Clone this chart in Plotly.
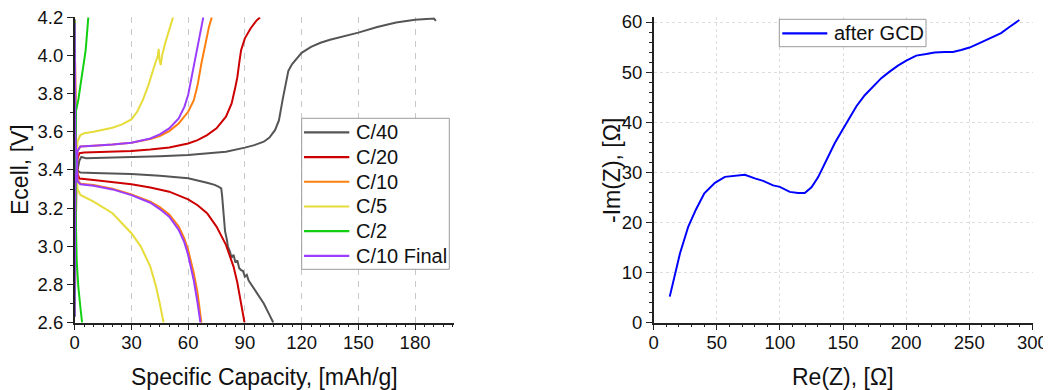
import plotly.graph_objects as go

# ---------------- Left panel: GCD curves (capacity mAh/g, voltage V) ----------------
rate_labels = ["C/40", "C/20", "C/10", "C/5", "C/2", "C/10 Final"]
rate_colors = ["#555555", "#CC0000", "#FF8010", "#E6DC3A", "#11D011", "#9B3DFF"]

c40_chg_cap = [0.3, 1.5, 2.5, 3.5, 6, 15, 30, 45, 60, 70, 80, 90, 95, 100, 103, 106, 108, 110, 112, 113, 115, 117, 120, 125, 130, 135, 140, 150, 160, 170, 180, 190, 191]
c40_chg_v = [3.30, 3.40, 3.45, 3.468, 3.462, 3.464, 3.468, 3.472, 3.478, 3.485, 3.495, 3.517, 3.53, 3.548, 3.57, 3.61, 3.66, 3.77, 3.88, 3.92, 3.955, 3.98, 4.014, 4.045, 4.067, 4.083, 4.095, 4.12, 4.15, 4.173, 4.187, 4.194, 4.182]
c40_dis_cap = [0, 0.3, 1, 3, 10, 30, 45, 60, 70, 74, 76, 77.5, 78, 78.5, 79, 79.5, 80.5, 81, 82, 83, 84, 85, 86, 87, 88, 89, 90, 91, 92, 93, 95, 97, 100, 103, 105]
c40_dis_v = [4.19, 3.6, 3.40, 3.386, 3.384, 3.379, 3.37, 3.356, 3.333, 3.322, 3.312, 3.304, 3.26, 3.20, 3.138, 3.08, 3.033, 2.998, 2.975, 2.94, 2.955, 2.915, 2.925, 2.885, 2.875, 2.87, 2.84, 2.85, 2.82, 2.805, 2.771, 2.74, 2.70, 2.64, 2.60]

c20_chg_cap = [0, 0.5, 1, 1.5, 2.5, 5, 15, 30, 40, 50, 60, 65, 70, 75, 80, 83, 85, 86, 87, 88, 90, 93, 96, 98]
c20_chg_v = [2.63, 3.2, 3.40, 3.46, 3.488, 3.492, 3.495, 3.499, 3.507, 3.518, 3.539, 3.556, 3.583, 3.618, 3.679, 3.749, 3.836, 3.885, 3.96, 4.028, 4.09, 4.142, 4.182, 4.20]
c20_dis_cap = [0, 0.5, 1.5, 2.5, 10, 20, 30, 40, 50, 60, 65, 70, 75, 80, 82, 84, 86, 87, 88, 89, 89.8]
c20_dis_v = [4.18, 3.6, 3.38, 3.355, 3.347, 3.337, 3.325, 3.308, 3.286, 3.246, 3.215, 3.173, 3.103, 3.007, 2.955, 2.893, 2.81, 2.754, 2.70, 2.649, 2.60]

c10_chg_cap = [0, 0.5, 1.5, 3, 10, 20, 30, 40, 45, 50, 55, 60, 63, 65, 67, 69, 71, 72.5]
c10_chg_v = [2.63, 3.3, 3.50, 3.523, 3.527, 3.533, 3.543, 3.562, 3.578, 3.604, 3.644, 3.705, 3.766, 3.845, 3.958, 4.063, 4.15, 4.2]
c10_dis_cap = [0, 0.5, 1.5, 3, 10, 20, 30, 40, 45, 50, 55, 58, 60, 63, 65, 67]
c10_dis_v = [4.18, 3.6, 3.35, 3.328, 3.321, 3.302, 3.272, 3.234, 3.205, 3.167, 3.103, 3.04, 2.98, 2.858, 2.754, 2.60]

c5_chg_cap = [0, 0.5, 1.5, 3, 5, 10, 20, 25, 30, 33, 36, 39, 42, 44, 44.4, 44.8, 45.5, 46.2, 48, 50, 52]
c5_chg_v = [2.63, 3.3, 3.55, 3.583, 3.592, 3.60, 3.621, 3.639, 3.665, 3.705, 3.766, 3.845, 3.941, 4.0, 4.035, 3.98, 3.95, 4.0, 4.07, 4.13, 4.2]
c5_dis_cap = [0, 0.5, 1.5, 3, 10, 20, 30, 35, 40, 43, 45, 47]
c5_dis_v = [4.18, 3.5, 3.30, 3.269, 3.234, 3.173, 3.068, 2.998, 2.893, 2.789, 2.70, 2.60]

c2_chg_cap = [0, 0.3, 0.7, 1.9, 3.3, 4.6, 5.8, 7.2]
c2_chg_v = [2.63, 3.4, 3.71, 3.767, 3.855, 3.94, 4.028, 4.2]
c2_dis_cap = [0, 0.2, 0.5, 1.05, 1.9, 3.0, 3.9]
c2_dis_v = [4.18, 3.4, 3.19, 2.928, 2.789, 2.68, 2.6]

c10f_chg_cap = [0, 0.3, 1.5, 3, 10, 20, 30, 40, 45, 50, 55, 58, 60, 62, 64, 66, 68]
c10f_chg_v = [2.63, 3.3, 3.50, 3.523, 3.527, 3.533, 3.543, 3.565, 3.587, 3.618, 3.67, 3.731, 3.793, 3.889, 3.993, 4.098, 4.2]
c10f_dis_cap = [0, 0.3, 1.5, 3, 10, 20, 30, 40, 45, 50, 55, 58, 60, 63, 65, 66.5]
c10f_dis_v = [4.17, 3.6, 3.34, 3.325, 3.317, 3.298, 3.268, 3.228, 3.195, 3.155, 3.086, 3.02, 2.954, 2.82, 2.70, 2.60]

cap_ticks = [0, 30, 60, 90, 120, 150, 180]
v_ticks = [2.6, 2.8, 3.0, 3.2, 3.4, 3.6, 3.8, 4.0, 4.2]

# ---------------- Right panel: Nyquist plot ----------------
eis_label = "after GCD"
re_z = [12.7, 16.9, 20.8, 27.4, 33.5, 40.1, 48.5, 56.4, 64.3, 72.2, 80.1, 86.7, 94.6, 99.9, 107.8, 114.4, 119.7, 125.0, 130.2, 136.8, 143.4, 148.7, 155.3, 160.6, 167.2, 173.7, 180.3, 186.9, 193.5, 200.1, 208.0, 215.9, 222.5, 230.4, 237.0, 243.6, 250.2, 258.1, 266.0, 275.2, 281.8, 289.7]
im_z = [5.2, 9.8, 13.8, 19.2, 22.6, 25.8, 27.9, 29.1, 29.3, 29.5, 28.8, 28.3, 27.4, 27.1, 26.1, 25.9, 25.9, 27.0, 29.0, 32.5, 35.8, 38.1, 41.1, 43.2, 45.4, 47.0, 48.8, 50.1, 51.3, 52.3, 53.3, 53.6, 53.9, 54.0, 54.0, 54.4, 54.9, 55.8, 56.8, 57.8, 59.0, 60.4]
re_ticks = [0, 50, 100, 150, 200, 250, 300]
im_ticks = [0, 10, 20, 30, 40, 50, 60]

# The page body has an 8px margin, so the figure is sized to fit the window
OFF = 8
W, H = 1051 - OFF, 390 - OFF
FONT = "Liberation Sans, Arial, sans-serif"
TXT = "#111111"

def pl(px):
    return (px - OFF) / W

def pt(py):
    return (H - (py - OFF)) / H

curves = [
    (c40_chg_cap, c40_chg_v, c40_dis_cap, c40_dis_v),
    (c20_chg_cap, c20_chg_v, c20_dis_cap, c20_dis_v),
    (c10_chg_cap, c10_chg_v, c10_dis_cap, c10_dis_v),
    (c5_chg_cap, c5_chg_v, c5_dis_cap, c5_dis_v),
    (c2_chg_cap, c2_chg_v, c2_dis_cap, c2_dis_v),
    (c10f_chg_cap, c10f_chg_v, c10f_dis_cap, c10f_dis_v),
]

fig = go.Figure()
for label, color, (cx, cy, dx, dy) in zip(rate_labels, rate_colors, curves):
    fig.add_trace(go.Scatter(
        x=list(cx) + [None] + list(dx), y=list(cy) + [None] + list(dy),
        mode="lines", name=label, line=dict(color=color, width=2),
        xaxis="x", yaxis="y", showlegend=False, connectgaps=False))

fig.add_trace(go.Scatter(x=re_z, y=im_z, mode="lines", name=eis_label,
                         line=dict(color="#0000FF", width=2),
                         xaxis="x2", yaxis="y2", showlegend=False))

axis_common = dict(showline=True, linecolor="#222222", linewidth=1.5,
                   ticks="outside", ticklen=6, tickwidth=1.2, tickcolor="#222222",
                   tickfont=dict(family=FONT, size=18.5, color=TXT),
                   ticklabeloverflow="allow",
                   zeroline=False, mirror=False, automargin=False)

# ---- hand-built legends (boxes, sample lines and labels) ----
shapes = []
annotations = []

def add_legend(box, labels, colors, line_x, text_x, y0, dy, size):
    x0, y0b, x1, y1b = box
    shapes.append(dict(type="rect", xref="paper", yref="paper",
                       x0=pl(x0), x1=pl(x1), y0=pt(y1b), y1=pt(y0b),
                       line=dict(color="#9A9A9A", width=1), fillcolor="white", layer="above"))
    for i, (lab, col) in enumerate(zip(labels, colors)):
        yy = y0 + i * dy
        shapes.append(dict(type="line", xref="paper", yref="paper",
                           x0=pl(line_x[0]), x1=pl(line_x[1]), y0=pt(yy), y1=pt(yy),
                           line=dict(color=col, width=2.2), layer="above"))
        annotations.append(dict(text=lab, x=pl(text_x), y=pt(yy), xref="paper", yref="paper",
                                showarrow=False, xanchor="left", yanchor="middle",
                                font=dict(family=FONT, size=size, color=TXT)))

add_legend((301.7, 118.3, 449.3, 269.3), rate_labels, rate_colors,
           (304, 349.3), 353.5, 132.3, 24.73, 20)
add_legend((779.3, 19.3, 926, 46.7), [eis_label], ["#0000FF"],
           (782.3, 827.3), 831.5, 33.3, 0, 20)

annotations += [
    dict(text="Ecell, [V]", x=pl(20), y=pt(170), xref="paper", yref="paper",
         textangle=-90, showarrow=False, xanchor="center", yanchor="middle",
         font=dict(family=FONT, size=23, color=TXT)),
    dict(text="Specific Capacity, [mAh/g]", x=pl(264.5), y=pt(377), xref="paper", yref="paper",
         showarrow=False, xanchor="center", yanchor="middle",
         font=dict(family=FONT, size=23, color=TXT)),
    dict(text="-Im(Z), [Ω]", x=pl(612), y=pt(171), xref="paper", yref="paper",
         textangle=-90, showarrow=False, xanchor="center", yanchor="middle",
         font=dict(family=FONT, size=23, color=TXT)),
    dict(text="Re(Z), [Ω]", x=pl(843), y=pt(377), xref="paper", yref="paper",
         showarrow=False, xanchor="center", yanchor="middle",
         font=dict(family=FONT, size=23, color=TXT)),
]

fig.update_layout(
    width=W, height=H, autosize=False,
    margin=dict(l=0, r=0, t=0, b=0, pad=0),
    paper_bgcolor="white", plot_bgcolor="white",
    font=dict(family=FONT, color=TXT),
    showlegend=False,
    xaxis=dict(domain=[pl(74.7), pl(454)], range=[0, 200.6], tickvals=cap_ticks,
               showgrid=True, gridcolor="#C8C8C8", gridwidth=1, griddash="6px,6px",
               ticklabelstandoff=-4,
               minor=dict(dtick=5, tick0=0, ticks="outside", ticklen=3, tickcolor="#222222", showgrid=False),
               anchor="y", **axis_common),
    yaxis=dict(domain=[pt(322.7), pt(17.3)], range=[2.599, 4.2005], tickvals=v_ticks,
               tickformat=".1f", showgrid=False,
               minor=dict(dtick=0.1, tick0=2.6, ticks="outside", ticklen=3, tickcolor="#222222", showgrid=False),
               anchor="x", **axis_common),
    xaxis2=dict(domain=[pl(653.7), pl(1033)], range=[0, 300.5], tickvals=re_ticks,
                showgrid=True, gridcolor="#DDDDDD", gridwidth=1, griddash="dot",
                ticklabelstandoff=-4,
                minor=dict(dtick=10, tick0=0, ticks="outside", ticklen=3, tickcolor="#222222", showgrid=False),
                anchor="y2", **axis_common),
    yaxis2=dict(domain=[pt(322.7), pt(17.3)], range=[0, 60.94], tickvals=im_ticks,
                showgrid=True, gridcolor="#DDDDDD", gridwidth=1, griddash="dot",
                minor=dict(dtick=2, tick0=0, ticks="outside", ticklen=3, tickcolor="#222222", showgrid=False),
                anchor="x2", **axis_common),
    shapes=shapes,
    annotations=annotations,
)

fig.write_html("out.html")
